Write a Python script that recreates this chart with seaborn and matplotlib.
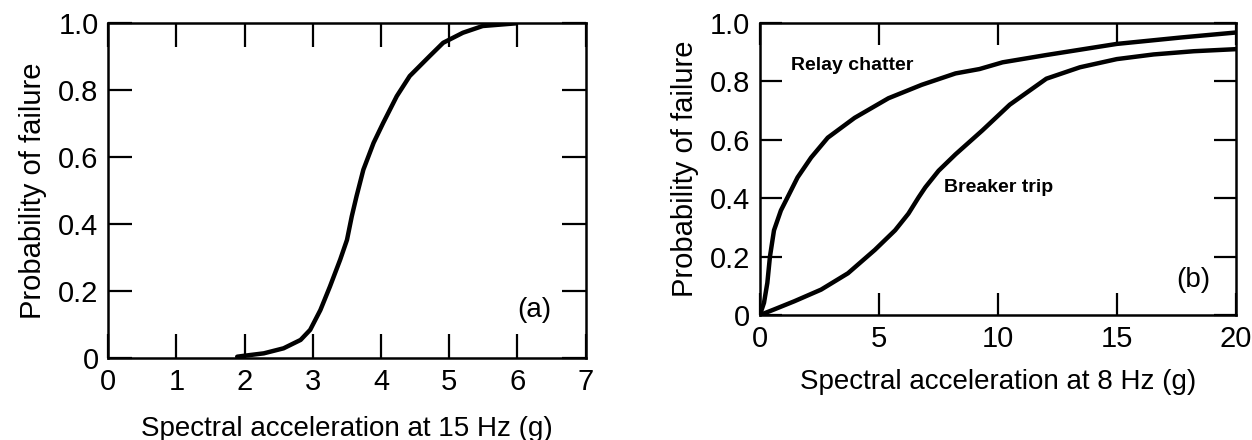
import matplotlib
matplotlib.use("Agg")
import matplotlib.pyplot as plt
import seaborn as sns
import pandas as pd

# ---- data ----
a_x = [1.89, 2.0, 2.28, 2.57, 2.82, 2.96, 3.11, 3.25, 3.40, 3.50, 3.57, 3.64, 3.74, 3.89, 4.03,
       4.23, 4.42, 4.71, 4.91, 5.20, 5.49, 5.98]
a_y = [0.005, 0.008, 0.015, 0.03, 0.055, 0.085, 0.144, 0.214, 0.294, 0.353, 0.423, 0.483, 0.562,
       0.642, 0.701, 0.781, 0.841, 0.90, 0.94, 0.97, 0.99, 0.998]

relay_x = [0, 0.03, 0.17, 0.31, 0.42, 0.59, 0.88, 1.16, 1.58, 2.15, 2.85, 3.98, 5.4, 6.8, 8.22,
           9.23, 10.2, 12.04, 15.0, 17.7, 20.0]
relay_y = [0, 0.008, 0.042, 0.11, 0.20, 0.29, 0.358, 0.403, 0.471, 0.539, 0.607, 0.675, 0.742,
           0.788, 0.827, 0.842, 0.865, 0.89, 0.928, 0.95, 0.967]

breaker_x = [0, 0.59, 1.44, 2.57, 3.7, 4.83, 5.68, 6.24, 6.67, 6.95, 7.51, 8.22, 9.35, 10.5,
             12.04, 13.45, 15.0, 16.55, 18.24, 20.0]
breaker_y = [0, 0.019, 0.047, 0.087, 0.143, 0.223, 0.29, 0.347, 0.403, 0.437, 0.494, 0.55,
             0.632, 0.72, 0.809, 0.848, 0.876, 0.892, 0.903, 0.91]

a_xticks = [0, 1, 2, 3, 4, 5, 6, 7]
b_xticks = [0, 5, 10, 15, 20]
yticks = [0, 0.2, 0.4, 0.6, 0.8, 1.0]
ytick_labels = ["0", "0.2", "0.4", "0.6", "0.8", "1.0"]

sns.set_style("ticks")
plt.rcParams['font.family'] = ['Liberation Sans', 'DejaVu Sans']
plt.rcParams['text.color'] = 'black'
plt.rcParams['axes.labelcolor'] = 'black'

fig = plt.figure(figsize=(12.52, 4.40), dpi=100)
ax1 = fig.add_axes([0.0865, 0.1855, 0.3813, 0.763])
ax2 = fig.add_axes([0.607, 0.284, 0.380, 0.664])

lw = 3.2
kw = dict(color="black", linewidth=lw, sort=False, estimator=None,
          solid_joinstyle="round", solid_capstyle="round")
sns.lineplot(data=pd.DataFrame({"x": a_x, "y": a_y}), x="x", y="y", ax=ax1, **kw)
sns.lineplot(data=pd.DataFrame({"x": relay_x, "y": relay_y}), x="x", y="y", ax=ax2, **kw)
sns.lineplot(data=pd.DataFrame({"x": breaker_x, "y": breaker_y}), x="x", y="y", ax=ax2, **kw)

for ax, xt, xmax, tl in [(ax1, a_xticks, 7, 17), (ax2, b_xticks, 20, 16)]:
    ax.set_xlim(0, xmax)
    ax.set_ylim(0, 1.0)
    ax.set_xticks(xt)
    ax.set_xticklabels([str(v) for v in xt])
    ax.set_yticks(yticks)
    ax.set_yticklabels(ytick_labels)
    ax.tick_params(direction="in", length=tl, width=1.6, top=True, right=True,
                   labelsize=21, pad=7, colors="black", labelcolor="black")
    for s in ax.spines.values():
        s.set_visible(True)
        s.set_linewidth(1.8)
        s.set_color("black")
    ax.set_ylabel("Probability of failure", fontsize=21, labelpad=8, color="black")

ax1.set_xlabel("Spectral acceleration at 15 Hz (g)", fontsize=20, labelpad=14, color="black")
ax2.set_xlabel("Spectral acceleration at 8 Hz (g)", fontsize=20, labelpad=12, color="black")

ax1.text(6.25, 0.145, "(a)", fontsize=20, ha="center", va="center", color="black")
ax2.text(18.2, 0.12, "(b)", fontsize=20, ha="center", va="center", color="black")
ax2.text(1.3, 0.855, "Relay chatter", fontsize=14, fontweight="bold", ha="left", va="center", color="black")
ax2.text(7.75, 0.435, "Breaker trip", fontsize=14, fontweight="bold", ha="left", va="center", color="black")

fig.savefig("out.png", dpi=100)
